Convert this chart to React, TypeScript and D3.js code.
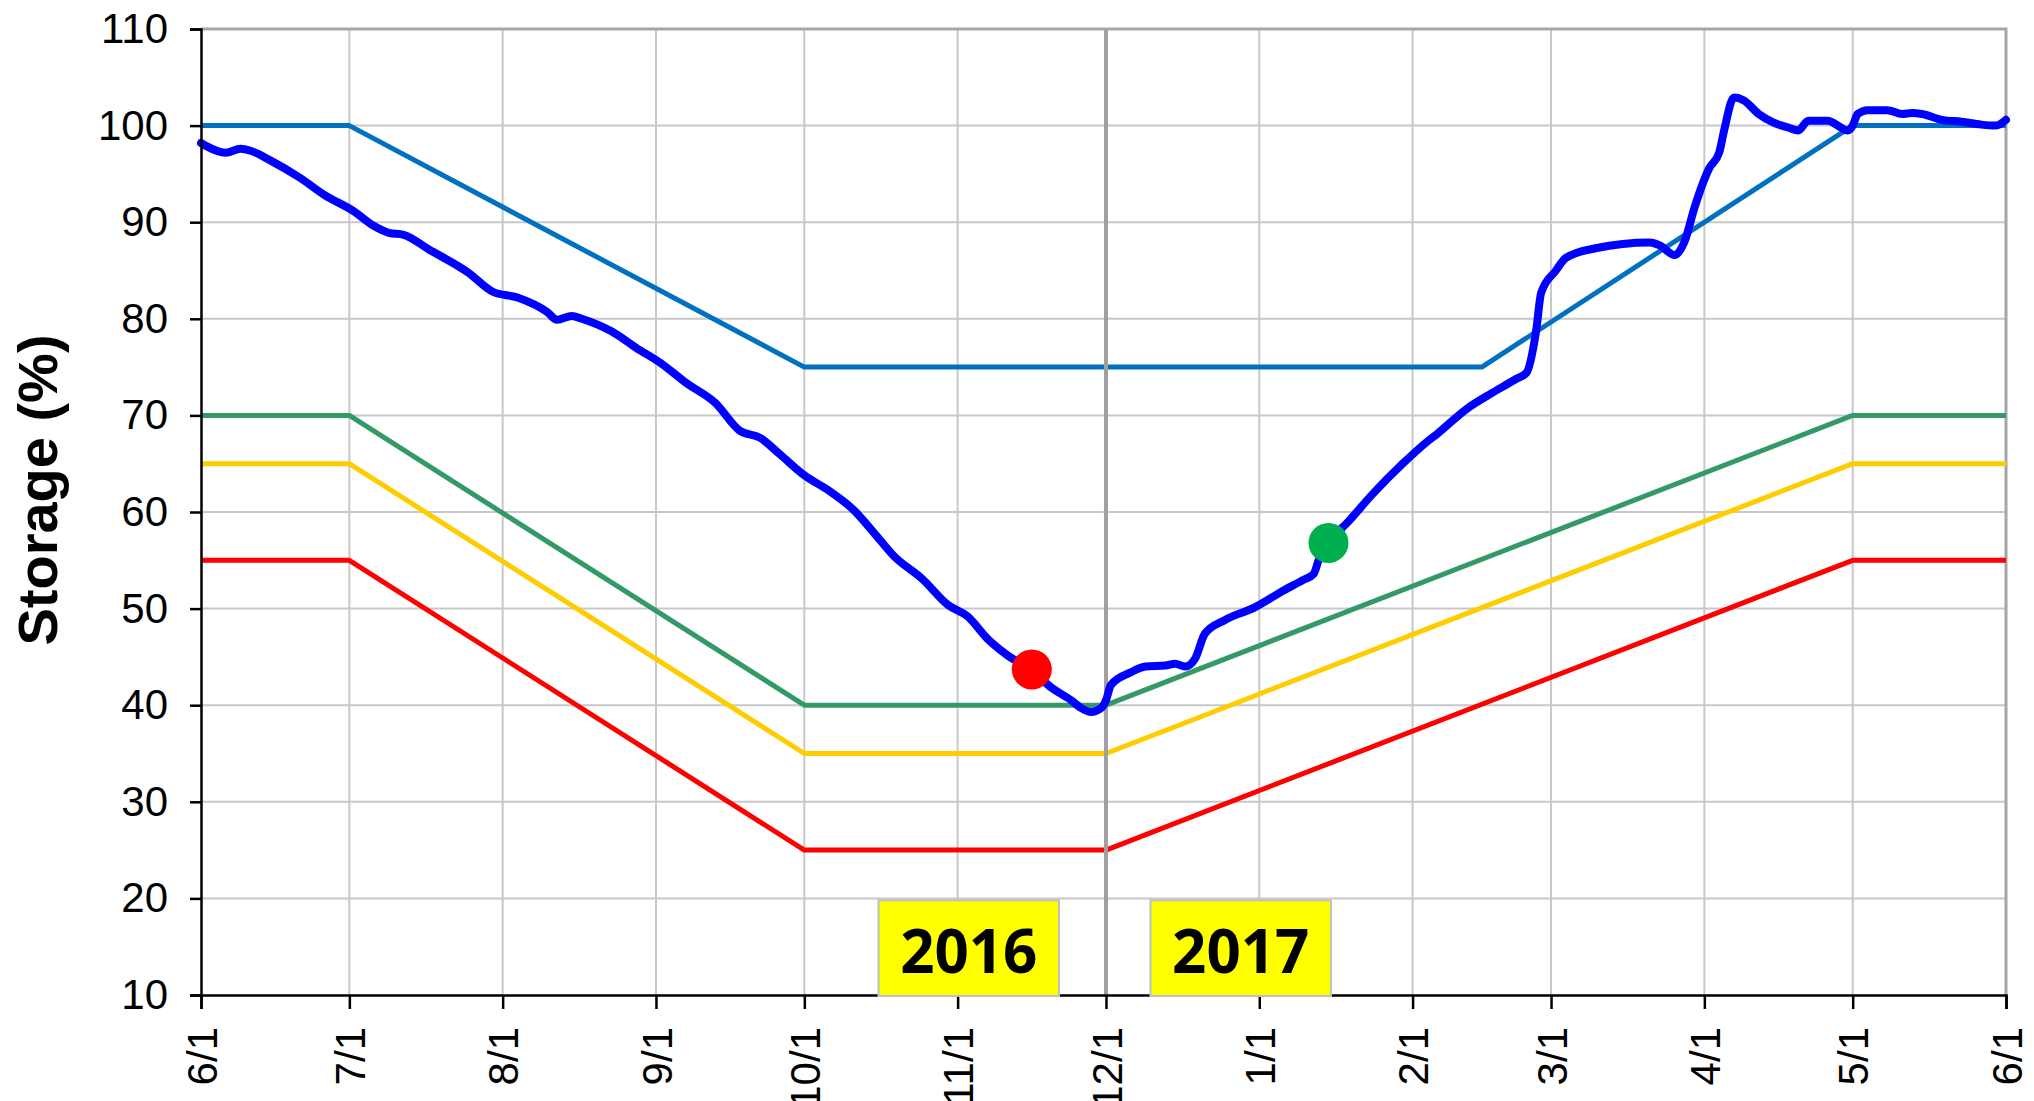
import React, { useEffect, useRef } from "react";
import * as d3 from "d3";

const width = 2034;
const height = 1101;
const margin = { top: 29, right: 28, bottom: 106, left: 201 };

// season runs 6/1/2016 -> 6/1/2017, all x values are day offsets from the start
const seasonStart = new Date(Date.UTC(2016, 5, 1));
const seasonEnd = new Date(Date.UTC(2017, 5, 1));

const yTicks = [10, 20, 30, 40, 50, 60, 70, 80, 90, 100, 110];

// rule curves
const topRuleDays = [0, 30, 122, 259, 334, 365];
const topRuleValues = [100, 100, 75, 75, 100, 100];
const lowerRuleDays = [0, 30, 122, 183, 334, 365];
const greenRuleValues = [70, 70, 40, 40, 70, 70];
const yellowRuleValues = [65, 65, 35, 35, 65, 65];
const redRuleValues = [55, 55, 25, 25, 55, 55];

// observed storage
const storageDays = [
  0, 1, 5, 8, 10, 14, 20, 25, 31, 35, 38, 41, 46, 54, 59, 64, 70, 72, 75, 77,
  83, 88, 93, 98, 104, 109, 113, 117, 122, 127, 132, 136, 140, 146, 151, 155,
  159, 163, 168, 172, 176, 178, 180, 182, 183, 184, 188, 191, 195, 197, 199,
  201, 203, 207, 213, 219, 223, 225, 226, 228, 232, 237, 243, 248, 250, 256,
  261, 264, 266, 268, 270, 271, 274, 276, 282, 293, 295, 298, 300, 302, 305,
  307, 308, 310, 312, 315, 318, 321, 323, 325, 329, 331, 333, 334, 335, 337,
  341, 344, 346, 348, 352, 356, 360, 363, 365,
];
const storageValues = [
  98.2, 97.9, 97.2, 97.6, 97.4, 96.4, 94.6, 92.8, 91.1, 89.6, 88.9, 88.7, 87.2,
  84.8, 82.8, 82.2, 80.7, 79.9, 80.3, 80.0, 78.7, 77.0, 75.4, 73.4, 71.3, 68.4,
  67.7, 66.0, 63.8, 62.2, 60.2, 57.9, 55.5, 53.0, 50.4, 49.2, 46.9, 45.2, 43.6,
  41.8, 40.5, 39.7, 39.3, 39.7, 40.5, 42.1, 43.4, 44.0, 44.1, 44.3, 44.0, 44.8,
  47.4, 48.8, 50.1, 51.9, 53.0, 53.6, 55.0, 56.8, 59.0, 61.9, 65.0, 67.3, 68.1,
  70.7, 72.3, 73.2, 73.8, 74.4, 78.8, 82.7, 85.0, 86.3, 87.3, 87.9, 87.6, 86.6,
  88.0, 91.5, 95.6, 97.2, 99.5, 102.9, 102.6, 101.2, 100.3, 99.8, 99.5, 100.5,
  100.5, 100.0, 99.5, 100.0, 101.2, 101.6, 101.6, 101.2, 101.3, 101.2, 100.6,
  100.4, 100.1, 100.0, 100.6,
];

// highlighted points
const markerDays = [168, 228];
const markerValues = [43.7, 56.8];
const markerColors = ["#FF0000", "#00B050"];

// year boxes
const yearLabels = ["2016", "2017"];
const yearBoxStartDays = [137, 192];
const yearBoxEndDays = [173.5, 228.5];

const toDate = d => new Date(seasonStart.getTime() + d * 86400000);

const App = () => {
  const ref = useRef(null);

  useEffect(() => {
    const svg = d3.select(ref.current);
    svg.selectAll("*").remove();

    const x = d3
      .scaleUtc()
      .domain([seasonStart, seasonEnd])
      .range([margin.left, width - margin.right]);
    const y = d3
      .scaleLinear()
      .domain([10, 110])
      .range([height - margin.bottom, margin.top]);

    const monthTicks = d3.utcMonth.range(seasonStart, d3.utcDay.offset(seasonEnd, 1));
    const fmt = d3.utcFormat("%-m/%-d");

    // gridlines
    const grid = svg.append("g");
    grid
      .selectAll("line.h")
      .data(yTicks.slice(1, -1))
      .enter()
      .append("line")
      .attr("x1", margin.left)
      .attr("x2", width - margin.right)
      .attr("y1", d => y(d))
      .attr("y2", d => y(d))
      .attr("stroke", "#c8c8c8")
      .attr("stroke-width", 2);
    grid
      .selectAll("line.v")
      .data(monthTicks.slice(1, -1))
      .enter()
      .append("line")
      .attr("x1", d => x(d))
      .attr("x2", d => x(d))
      .attr("y1", margin.top)
      .attr("y2", height - margin.bottom)
      .attr("stroke", "#c8c8c8")
      .attr("stroke-width", 2);

    // top and right frame
    svg
      .append("path")
      .attr("d", `M${margin.left},${y(110)}H${x(seasonEnd)}V${y(10)}`)
      .attr("fill", "none")
      .attr("stroke", "#a6a6a6")
      .attr("stroke-width", 3);

    const line = d3
      .line()
      .x(d => x(toDate(d[0])))
      .y(d => y(d[1]));

    const rules = [
      { days: topRuleDays, values: topRuleValues, color: "#0070C0" },
      { days: lowerRuleDays, values: greenRuleValues, color: "#339966" },
      { days: lowerRuleDays, values: yellowRuleValues, color: "#FFCC00" },
      { days: lowerRuleDays, values: redRuleValues, color: "#FF0000" },
    ];
    rules.forEach(r => {
      svg
        .append("path")
        .datum(r.days.map((d, i) => [d, r.values[i]]))
        .attr("d", line)
        .attr("fill", "none")
        .attr("stroke", r.color)
        .attr("stroke-width", 5)
        .attr("stroke-linejoin", "round");
    });

    // year divider at 12/1
    const divider = x(new Date(Date.UTC(2016, 11, 1)));
    svg
      .append("line")
      .attr("x1", divider)
      .attr("x2", divider)
      .attr("y1", margin.top)
      .attr("y2", height - margin.bottom)
      .attr("stroke", "#a0a0a0")
      .attr("stroke-width", 4);

    svg
      .append("path")
      .datum(storageDays.map((d, i) => [d, storageValues[i]]))
      .attr("d", line.curve(d3.curveMonotoneX))
      .attr("fill", "none")
      .attr("stroke", "#0000FF")
      .attr("stroke-width", 8)
      .attr("stroke-linejoin", "round")
      .attr("stroke-linecap", "round");

    // axes
    const yAxis = svg
      .append("g")
      .attr("transform", `translate(${margin.left},0)`)
      .call(d3.axisLeft(y).tickValues(yTicks).tickSize(11).tickPadding(22));
    yAxis.select(".domain").attr("stroke", "#000").attr("stroke-width", 2.5);
    yAxis.selectAll(".tick line").attr("stroke", "#000").attr("stroke-width", 2.5);
    yAxis
      .selectAll(".tick text")
      .attr("font-family", "Liberation Sans, Arial, sans-serif")
      .attr("font-size", 42)
      .attr("fill", "#000");

    const xAxis = svg
      .append("g")
      .attr("transform", `translate(0,${height - margin.bottom})`)
      .call(d3.axisBottom(x).tickValues(monthTicks).tickFormat(fmt).tickSize(14));
    xAxis.select(".domain").attr("stroke", "#000").attr("stroke-width", 2.5);
    xAxis.selectAll(".tick line").attr("stroke", "#000").attr("stroke-width", 2.5);
    xAxis
      .selectAll(".tick text")
      .attr("font-family", "Liberation Sans, Arial, sans-serif")
      .attr("font-size", 42)
      .attr("fill", "#000")
      .attr("text-anchor", "end")
      .attr("transform", "rotate(-90)")
      .attr("x", -32)
      .attr("y", 0)
      .attr("dy", "0.36em");

    // y title
    svg
      .append("text")
      .attr("transform", `translate(57,490) rotate(-90)`)
      .attr("text-anchor", "middle")
      .attr("font-family", "Liberation Sans, Arial, sans-serif")
      .attr("font-weight", "bold")
      .attr("font-size", 56)
      .attr("fill", "#000")
      .text("Storage (%)");

    // year boxes
    yearLabels.forEach((label, i) => {
      const x0 = x(toDate(yearBoxStartDays[i]));
      const x1 = x(toDate(yearBoxEndDays[i]));
      svg
        .append("rect")
        .attr("x", x0)
        .attr("y", y(19.8))
        .attr("width", x1 - x0)
        .attr("height", y(10) - y(19.8) + 1)
        .attr("fill", "#FFFF00")
        .attr("stroke", "#c0c0c0")
        .attr("stroke-width", 2);
      svg
        .append("text")
        .attr("x", (x0 + x1) / 2)
        .attr("y", y(12.3))
        .attr("text-anchor", "middle")
        .attr("font-family", "Open Sans, sans-serif")
        .attr("font-weight", 700)
        .attr("font-size", 60)
        .attr("fill", "#000")
        .text(label);
    });

    // markers
    svg
      .selectAll("circle.marker")
      .data(markerDays)
      .enter()
      .append("circle")
      .attr("class", "marker")
      .attr("cx", d => x(toDate(d)))
      .attr("cy", (d, i) => y(markerValues[i]))
      .attr("r", 20)
      .attr("fill", (d, i) => markerColors[i]);
  }, []);

  return (
    <svg
      ref={ref}
      width={width}
      height={height}
      style={{ position: "absolute", left: 0, top: 0, background: "#fff" }}
    />
  );
};

export default App;
